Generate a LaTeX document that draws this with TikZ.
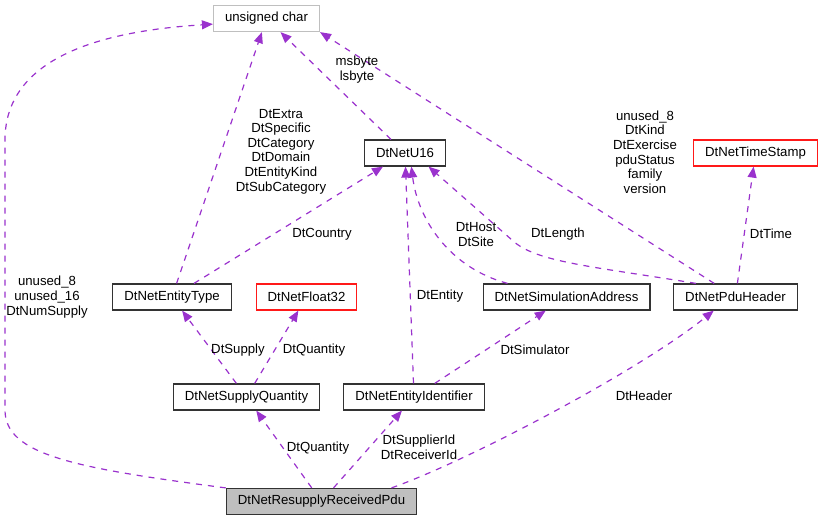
\documentclass[tikz,border=0pt]{standalone}
\usepackage{fontspec}
\setmainfont{Liberation Sans}
\usetikzlibrary{arrows.meta}
\definecolor{edgepurple}{HTML}{9A32CD}
\definecolor{boxgray}{HTML}{BFBFBF}

\begin{document}
\begin{tikzpicture}[x=1pt,y=-1pt,
    font=\fontsize{13.2}{14.6}\selectfont,
    cls/.style={draw=black!80,line width=1.2pt,inner xsep=11.5pt,inner ysep=0pt,minimum height=26pt},
    ext/.style={cls,draw=boxgray},
    undoc/.style={cls,draw=red!90},
    cur/.style={cls,fill=boxgray},
    rel/.style={edgepurple,line width=1.2pt,dash pattern=on 6pt off 6pt,-{Triangle[length=11pt,width=9pt]}},
    lbl/.style={align=center,inner sep=0pt}]
      \useasboundingbox (0,0) rectangle (823,520);
      \node[ext] (uchar) at (266.5,18.5) {unsigned char};
      \node[cls] (u16) at (405,153) {DtNetU16};
      \node[undoc] (stamp) at (755.5,153) {DtNetTimeStamp};
      \node[cls] (etype) at (172,297) {DtNetEntityType};
      \node[undoc] (float) at (306.5,297) {DtNetFloat32};
      \node[cls] (simaddr) at (566.5,297) {DtNetSimulationAddress};
      \node[cls] (pduhdr) at (735.5,297) {DtNetPduHeader};
      \node[cls] (supply) at (246.5,397) {DtNetSupplyQuantity};
      \node[cls] (entid) at (414,397) {DtNetEntityIdentifier};
      \node[cur] (pdu) at (321.5,501.5) {DtNetResupplyReceivedPdu};
      \draw[rel] (pdu.north west) .. controls (75,468) and (5,455) .. (5,410) -- (5,140) .. controls (5,50) and (120,30) .. (uchar.186);
      \draw[rel] (pdu) -- (supply);
      \draw[rel] (pdu) -- (entid);
      \draw[rel] (pdu.11) .. controls (470,460) and (640,370) .. (pduhdr.212);
      \draw[rel] (supply) -- (etype);
      \draw[rel] (supply) -- (float);
      \draw[rel] (entid) -- (u16);
      \draw[rel] (entid) -- (simaddr);
      \draw[rel] (simaddr.167) .. controls (450,268) and (418,220) .. (u16.295);
      \draw[rel] (pduhdr.161) .. controls (590,266) and (535,262) .. (512,240) -- (u16.330);
      \draw[rel] (pduhdr) -- (uchar.south east);
      \draw[rel] (pduhdr) -- (stamp);
      \draw[rel] (u16) -- (uchar);
      \draw[rel] (etype) -- (uchar);
      \draw[rel] (etype) -- (u16);
      \node[lbl] (lnum) at (47,297) {unused\_8\\unused\_16\\DtNumSupply};
      \node[lbl] (lbyte) at (357,69.5) {msbyte\\lsbyte};
      \node[lbl] (ltype) at (281,151.5) {DtExtra\\DtSpecific\\DtCategory\\DtDomain\\DtEntityKind\\DtSubCategory};
      \node[lbl] (lhdr) at (645,152) {unused\_8\\DtKind\\DtExercise\\pduStatus\\family\\version};
      \node[lbl] (lcountry) at (322,234) {DtCountry};
      \node[lbl] (lhost) at (476,234.5) {DtHost\\DtSite};
      \node[lbl] (llength) at (558,234) {DtLength};
      \node[lbl] (ltime) at (771,234) {DtTime};
      \node[lbl] (lentity) at (440,296) {DtEntity};
      \node[lbl] (lsupply) at (238,350) {DtSupply};
      \node[lbl] (lqty) at (314,350) {DtQuantity};
      \node[lbl] (lsim) at (535,350) {DtSimulator};
      \node[lbl] (lheader) at (644,396) {DtHeader};
      \node[lbl] (lqty2) at (318,448) {DtQuantity};
      \node[lbl] (lids) at (419,447.5) {DtSupplierId\\DtReceiverId};
    \end{tikzpicture}
\end{document}
